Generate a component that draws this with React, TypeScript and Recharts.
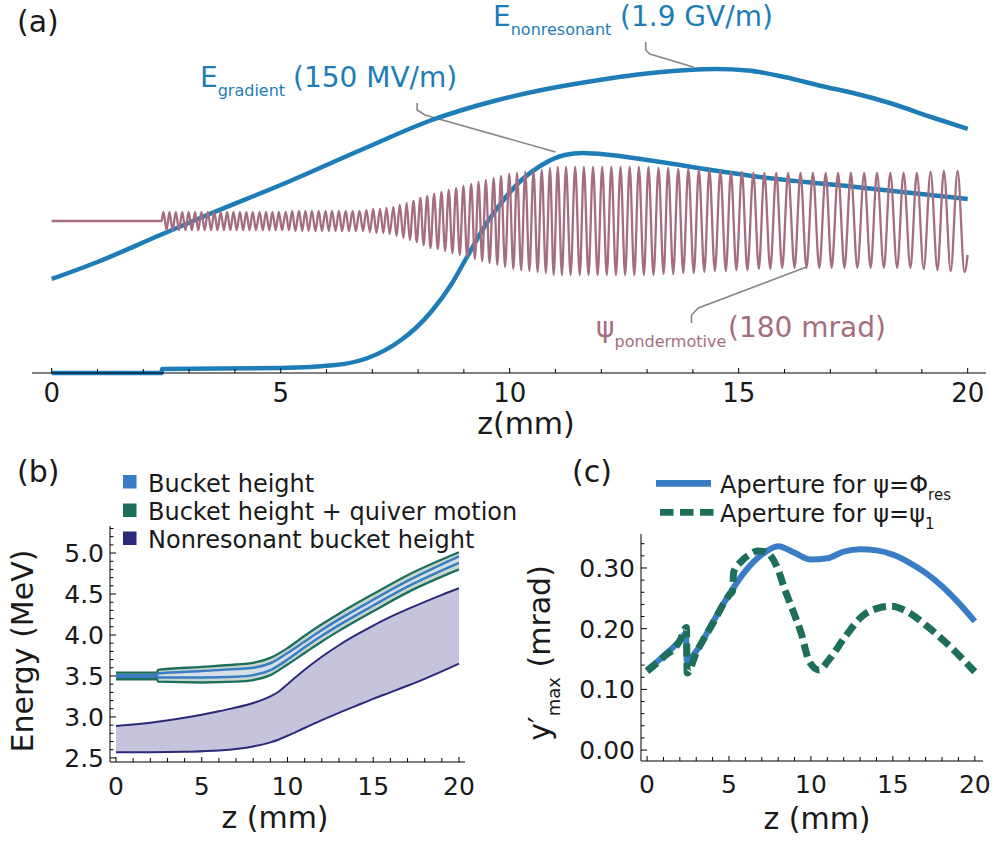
import { LineChart, ComposedChart, Line, Area, XAxis, YAxis } from 'recharts';

const FONT = '"DejaVu Sans", Verdana, sans-serif';
const INK = '#1a1a1a';
const FIELD_BLUE = '#1e7db6';
const PSI_COLOR = '#a56e80';
const CALLOUT = '#868686';
const BUCKET_BLUE = '#3a7dc4';
const QUIVER_GREEN = '#1e6e5c';
const NONRES_NAVY = '#2b2a7a';

// ---------- shared z ticks (mm)
const zTicks = [0, 1, 2, 3, 4, 5, 6, 7, 8, 9, 10, 11, 12, 13, 14, 15, 16, 17, 18, 19, 20];
const zMajor = [0, 5, 10, 15, 20];

// ---------- panel (a): arbitrary units, 0 = axis
const nonresonantField: [number, number][] = [
  [0, 94], [1, 111], [2.37, 138], [3.5, 160], [5, 188], [6.9, 226], [8.3, 253], [9.0, 263.5], [9.7, 272.5],
  [10.7, 283], [11.75, 291.5], [12.8, 298.5], [13.9, 303], [14.5, 304], [15.2, 302.5], [16, 296], [16.8, 287],
  [17.5, 280], [18.3, 270], [19.2, 256], [20, 244],
];
const gradientField: [number, number][] = [
  [0, 0], [2.4, 0], [2.41, 4], [5, 5], [6.2, 8], [6.9, 15], [7.6, 32], [7.95, 45], [8.3, 62], [8.73, 89],
  [9.08, 117], [9.5, 150], [9.9, 175], [10.26, 193], [10.7, 208], [11.2, 218], [11.6, 220],
  [12.2, 218], [13.3, 211], [14.4, 203], [15.46, 196], [17.76, 185], [20, 174],
];
// extrema of the ponderomotive phase oscillation
const psiPonderomotive: [number, number][] = [
  [0, 152], [2.4, 152],
  [2.44, 161], [2.51, 143], [2.57, 161], [2.64, 143], [2.71, 161], [2.78, 143], [2.85, 161], [2.92, 143],
  [2.99, 161], [3.06, 143], [3.13, 161], [3.2, 143], [3.27, 161], [3.34, 143], [3.41, 161], [3.48, 143],
  [3.55, 161], [3.62, 143], [3.69, 161], [3.76, 143], [3.83, 161], [3.9, 143], [3.97, 161], [4.04, 143],
  [4.11, 161], [4.18, 143], [4.25, 161], [4.32, 143], [4.39, 161], [4.46, 143], [4.54, 161], [4.61, 143],
  [4.68, 161], [4.75, 143], [4.82, 161], [4.89, 143], [4.96, 161], [5.03, 143], [5.11, 161], [5.18, 143],
  [5.25, 162], [5.32, 142], [5.4, 162], [5.47, 142], [5.54, 162], [5.61, 142], [5.68, 162], [5.76, 142],
  [5.83, 162], [5.9, 142], [5.98, 162], [6.05, 142], [6.12, 162], [6.2, 142], [6.27, 162], [6.34, 142],
  [6.42, 162], [6.49, 142], [6.57, 162], [6.64, 142], [6.72, 162], [6.8, 142],
  [6.87, 163], [6.95, 141], [7.02, 164], [7.09, 140], [7.17, 164], [7.24, 140], [7.31, 165], [7.38, 139],
  [7.46, 166], [7.53, 137], [7.6, 168], [7.68, 135], [7.75, 170], [7.82, 133], [7.9, 172], [7.97, 131],
  [8.05, 175], [8.12, 128], [8.2, 177], [8.27, 125], [8.35, 179], [8.43, 124], [8.51, 181], [8.59, 122],
  [8.67, 183], [8.75, 120], [8.83, 185], [8.91, 118], [8.99, 187], [9.07, 116], [9.16, 189], [9.24, 114],
  [9.32, 191], [9.4, 112], [9.48, 193], [9.56, 110], [9.65, 195], [9.73, 108], [9.81, 197], [9.9, 106],
  [9.99, 199], [10.08, 104], [10.16, 200], [10.25, 103], [10.34, 201], [10.43, 102], [10.52, 202], [10.61, 101],
  [10.7, 203], [10.79, 100], [10.88, 205], [10.96, 98],
  [11.05, 206], [11.14, 98], [11.23, 206], [11.33, 98], [11.43, 206], [11.53, 98], [11.62, 206], [11.72, 98],
  [11.82, 206], [11.92, 98], [12.02, 206], [12.12, 98], [12.22, 206], [12.32, 98], [12.42, 206], [12.52, 98],
  [12.62, 206], [12.72, 98], [12.82, 206], [12.93, 98], [13.03, 206], [13.14, 98],
  [13.25, 205], [13.36, 99], [13.46, 205], [13.57, 99], [13.68, 204], [13.79, 100], [13.9, 204], [14.02, 100],
  [14.13, 203], [14.25, 101], [14.36, 203], [14.48, 102], [14.6, 202], [14.72, 102], [14.83, 201], [14.95, 103],
  [15.07, 201], [15.19, 103], [15.32, 200], [15.44, 104], [15.56, 200], [15.69, 104], [15.82, 200], [15.95, 105],
  [16.08, 200], [16.22, 105], [16.35, 200], [16.48, 105], [16.62, 200], [16.76, 105], [16.9, 200], [17.03, 105],
  [17.17, 200], [17.31, 105], [17.45, 200], [17.59, 105], [17.74, 200], [17.88, 105], [18.02, 200], [18.17, 105],
  [18.31, 200], [18.46, 105], [18.6, 200], [18.75, 105], [18.89, 200], [19.04, 104], [19.19, 201], [19.34, 103],
  [19.48, 202], [19.63, 102], [19.78, 202], [19.93, 101], [20, 118],
];
// leader lines from the labels to the curves
const calloutNonres: [number, number][] = [[12.97, 331], [12.97, 323], [13.06, 319], [14.01, 306]];
const calloutGradient: [number, number][] = [[7.98, 270], [7.98, 263], [8.15, 258], [11.0, 221]];
const calloutPsi: [number, number][] = [[13.97, 50], [13.97, 58], [14.12, 65], [16.48, 106]];

// ---------- panel (b): energy (MeV)
const quiverZ = [0, 2.4, 2.45, 5, 7, 8, 9, 10, 11, 12, 13, 15, 17, 20];
const quiverUpper = [3.54, 3.54, 3.575, 3.61, 3.64, 3.66, 3.72, 3.84, 3.99, 4.13, 4.26, 4.5, 4.73, 5.01];
const quiverLower = [3.46, 3.46, 3.43, 3.42, 3.43, 3.45, 3.51, 3.64, 3.78, 3.92, 4.05, 4.29, 4.52, 4.8];
const bucketUpper = [3.51, 3.51, 3.53, 3.56, 3.585, 3.6, 3.655, 3.78, 3.92, 4.06, 4.19, 4.43, 4.66, 4.96];
const bucketLower = [3.49, 3.49, 3.48, 3.48, 3.49, 3.51, 3.57, 3.7, 3.85, 3.99, 4.12, 4.36, 4.59, 4.88];
const nonresZ = [0, 2, 4, 6, 8, 9, 9.5, 10, 11, 12, 13, 14, 15, 16, 17, 18, 19, 20];
const nonresUpper = [2.89, 2.93, 2.99, 3.07, 3.17, 3.25, 3.31, 3.4, 3.575, 3.735, 3.875, 4.0, 4.115, 4.22, 4.315, 4.405, 4.49, 4.57];
const nonresLower = [2.57, 2.57, 2.575, 2.59, 2.64, 2.69, 2.725, 2.77, 2.865, 2.96, 3.05, 3.135, 3.22, 3.3, 3.38, 3.465, 3.555, 3.65];
const energyTicks = [2.5, 2.6, 2.7, 2.8, 2.9, 3.0, 3.1, 3.2, 3.3, 3.4, 3.5, 3.6, 3.7, 3.8, 3.9, 4.0, 4.1, 4.2, 4.3, 4.4, 4.5, 4.6, 4.7, 4.8, 4.9, 5.0, 5.1, 5.2, 5.3];
const energyLabels = [2.5, 3.0, 3.5, 4.0, 4.5, 5.0];

// ---------- panel (c): aperture y'max (mrad)
const apertureRes: [number, number][] = [
  [0, 0.132], [0.5, 0.143], [1, 0.155], [1.5, 0.167], [2, 0.18], [2.38, 0.192], [2.42, 0.147], [3, 0.163],
  [4, 0.21], [5, 0.256], [6, 0.295], [7, 0.322], [8, 0.336], [9, 0.325], [10, 0.314], [11, 0.316],
  [12, 0.327], [13, 0.331], [14, 0.329], [15, 0.322], [16, 0.309], [17, 0.292], [18, 0.27], [19, 0.243], [20, 0.212],
];
const aperturePsi1: [number, number][] = [
  [0, 0.13], [1, 0.153], [2, 0.18], [2.4, 0.202], [2.45, 0.127], [3, 0.16], [4, 0.208], [5, 0.255],
  [5.22, 0.262], [5.28, 0.293], [5.75, 0.311], [6.25, 0.322], [6.75, 0.328], [7.2, 0.327], [7.6, 0.318],
  [8.0, 0.297], [8.4, 0.265], [8.8, 0.237], [9.4, 0.193], [9.9, 0.146], [10.5, 0.132], [11.1, 0.149],
  [12.1, 0.187], [13.1, 0.22], [14, 0.233], [14.9, 0.237], [16, 0.226], [17, 0.206], [18.4, 0.173], [20, 0.129],
];
const apertureTicks = [0, 0.02, 0.04, 0.06, 0.08, 0.1, 0.12, 0.14, 0.16, 0.18, 0.2, 0.22, 0.24, 0.26, 0.28, 0.3, 0.32, 0.34];
const apertureLabels = [0, 0.1, 0.2, 0.3];

const pts = (pairs: [number, number][]) => pairs.map(([z, v]) => ({ z, v }));
const band = (zs: number[], lo: number[], hi: number[]) =>
  zs.map((z, i) => ({ z, band: [lo[i], hi[i]], lo: lo[i], hi: hi[i] }));

const quiverData = band(quiverZ, quiverLower, quiverUpper);
const bucketData = band(quiverZ, bucketLower, bucketUpper);
const nonresData = band(nonresZ, nonresLower, nonresUpper);

// ticks point into the plot, labels only on majors
const makeXTick = (labelDy: number, fontSize: number) => (props: any) => {
  const { x, y, payload } = props;
  const major = zMajor.includes(payload.value);
  return (
    <g>
      <line x1={x} x2={x} y1={y} y2={y - (major ? 5 : 4)} stroke="#000" strokeWidth={1} />
      {major && (
        <text x={x} y={y + labelDy} textAnchor="middle" fontSize={fontSize} fontFamily={FONT} fill={INK}>
          {payload.value}
        </text>
      )}
    </g>
  );
};

const makeYTick = (labels: number[], digits: number, fontSize: number) => (props: any) => {
  const { x, y, payload } = props;
  const major = labels.some((l) => Math.abs(l - payload.value) < 1e-6);
  return (
    <g>
      <line x1={x} x2={x + (major ? 6 : 3.5)} y1={y} y2={y} stroke="#000" strokeWidth={1} />
      {major && (
        <text x={x - 6} y={y} dy="0.36em" textAnchor="end" fontSize={fontSize} fontFamily={FONT} fill={INK}>
          {payload.value.toFixed(digits)}
        </text>
      )}
    </g>
  );
};

const abs = (left: number, top: number) => ({ position: 'absolute' as const, left, top });

export default function App() {
  return (
    <div style={{ position: 'absolute', left: 0, top: 0, width: 995, height: 842, background: '#fff', fontFamily: FONT }}>
      {/* (a) fields along the structure */}
      <div style={abs(0, 0)}>
        <LineChart width={995} height={440} margin={{ top: 10, right: 9, left: 32, bottom: 0 }}>
          <XAxis
            dataKey="z" type="number" domain={[-0.43, 20.4]} ticks={zTicks} interval={0}
            height={67} tickSize={0} tickMargin={0} tickLine={false} axisLine={{ stroke: '#000' }}
            tick={makeXTick(29, 26)}
          />
          <YAxis hide width={0} type="number" domain={[0, 363]} />
          <Line data={pts(calloutNonres)} dataKey="v" type="linear" stroke={CALLOUT} strokeWidth={1.6} dot={false} activeDot={false} isAnimationActive={false} />
          <Line data={pts(calloutGradient)} dataKey="v" type="linear" stroke={CALLOUT} strokeWidth={1.6} dot={false} activeDot={false} isAnimationActive={false} />
          <Line data={pts(calloutPsi)} dataKey="v" type="linear" stroke={CALLOUT} strokeWidth={1.6} dot={false} activeDot={false} isAnimationActive={false} />
          <Line data={pts(gradientField)} dataKey="v" type="monotone" stroke={FIELD_BLUE} strokeWidth={4.5} dot={false} activeDot={false} isAnimationActive={false} />
          <Line data={pts(nonresonantField)} dataKey="v" type="monotone" stroke={FIELD_BLUE} strokeWidth={4.5} dot={false} activeDot={false} isAnimationActive={false} />
          <Line data={pts(psiPonderomotive)} dataKey="v" type="monotone" stroke={PSI_COLOR} strokeWidth={2.3} dot={false} activeDot={false} isAnimationActive={false} />
        </LineChart>
      </div>

      {/* (b) bucket heights */}
      <div style={abs(0, 440)}>
        <ComposedChart width={480} height={402} margin={{ top: 86, right: 15, left: 0, bottom: 0 }}>
          <XAxis
            dataKey="z" type="number" domain={[-0.35, 20.35]} allowDataOverflow ticks={zTicks} interval={0}
            height={80} tickSize={0} tickMargin={0} tickLine={false} axisLine={{ stroke: '#000' }}
            tick={makeXTick(33, 25)}
          />
          <YAxis
            type="number" domain={[2.45, 5.33]} allowDataOverflow ticks={energyTicks} interval={0} width={110}
            tickSize={0} tickMargin={0} tickLine={false} axisLine={{ stroke: '#000' }}
            tick={makeYTick(energyLabels, 1, 25)}
          />
          <Area data={nonresData} dataKey="band" type="monotone" stroke="none" fill="#c6c3dd" fillOpacity={1} dot={false} activeDot={false} isAnimationActive={false} />
          <Line data={nonresData} dataKey="hi" type="monotone" stroke={NONRES_NAVY} strokeWidth={2} dot={false} activeDot={false} isAnimationActive={false} />
          <Line data={nonresData} dataKey="lo" type="monotone" stroke={NONRES_NAVY} strokeWidth={2} dot={false} activeDot={false} isAnimationActive={false} />
          <Area data={quiverData} dataKey="band" type="monotone" stroke="none" fill="#c8d7d0" fillOpacity={1} dot={false} activeDot={false} isAnimationActive={false} />
          <Line data={quiverData} dataKey="hi" type="monotone" stroke={QUIVER_GREEN} strokeWidth={2.3} dot={false} activeDot={false} isAnimationActive={false} />
          <Line data={quiverData} dataKey="lo" type="monotone" stroke={QUIVER_GREEN} strokeWidth={2.3} dot={false} activeDot={false} isAnimationActive={false} />
          <Area data={bucketData} dataKey="band" type="monotone" stroke="none" fill="#d6dee6" fillOpacity={1} dot={false} activeDot={false} isAnimationActive={false} />
          <Line data={bucketData} dataKey="hi" type="monotone" stroke={BUCKET_BLUE} strokeWidth={2.5} dot={false} activeDot={false} isAnimationActive={false} />
          <Line data={bucketData} dataKey="lo" type="monotone" stroke={BUCKET_BLUE} strokeWidth={2.5} dot={false} activeDot={false} isAnimationActive={false} />
        </ComposedChart>
      </div>

      {/* (c) angular aperture */}
      <div style={abs(500, 440)}>
        <LineChart width={495} height={402} margin={{ top: 94, right: 12, left: 0, bottom: 0 }}>
          <XAxis
            dataKey="z" type="number" domain={[-0.37, 20.5]} allowDataOverflow ticks={zTicks} interval={0}
            height={81} tickSize={0} tickMargin={0} tickLine={false} axisLine={{ stroke: '#000' }}
            tick={makeXTick(32, 25)}
          />
          <YAxis
            type="number" domain={[-0.018, 0.356]} allowDataOverflow ticks={apertureTicks} interval={0} width={141}
            tickSize={0} tickMargin={0} tickLine={false} axisLine={{ stroke: '#000' }}
            tick={makeYTick(apertureLabels, 2, 25)}
          />
          <Line data={pts(apertureRes)} dataKey="v" type="monotone" stroke={BUCKET_BLUE} strokeWidth={6} dot={false} activeDot={false} isAnimationActive={false} />
          <Line data={pts(aperturePsi1)} dataKey="v" type="monotone" stroke={QUIVER_GREEN} strokeWidth={7} strokeDasharray="13 6" dot={false} activeDot={false} isAnimationActive={false} />
        </LineChart>
      </div>

      {/* labels, legends */}
      <svg width={995} height={842} style={{ position: 'absolute', left: 0, top: 0, pointerEvents: 'none' }} fontFamily={FONT}>
        <text x={17} y={32} fontSize={30} fill={INK}>(a)</text>
        <text x={493} y={26} fontSize={28} fill={FIELD_BLUE}>
          E<tspan fontSize={16} dy={9}>nonresonant</tspan>
          <tspan x={620} dy={-9} fontSize={28}>(1.9 GV/m)</tspan>
        </text>
        <text x={200} y={87} fontSize={28} fill={FIELD_BLUE}>
          E<tspan fontSize={16} dy={9}>gradient</tspan>
          <tspan x={293} dy={-9} fontSize={28}>(150 MV/m)</tspan>
        </text>
        <text x={596} y={337} fontSize={28} fill={PSI_COLOR}>
          ψ<tspan fontSize={16} dy={10}>pondermotive</tspan>
          <tspan x={728} dy={-10} fontSize={28}>(180 mrad)</tspan>
        </text>
        <text x={526} y={434} fontSize={30} fill={INK} textAnchor="middle">z(mm)</text>

        <text x={17} y={482} fontSize={30} fill={INK}>(b)</text>
        <rect x={123} y={475} width={13.5} height={13.5} fill={BUCKET_BLUE} />
        <rect x={123} y={503.5} width={13.5} height={13.5} fill={QUIVER_GREEN} />
        <rect x={123} y={531.5} width={13.5} height={13.5} fill={NONRES_NAVY} />
        <text x={148} y={492} fontSize={24} fill={INK}>Bucket height</text>
        <text x={148} y={520} fontSize={24} fill={INK}>Bucket height + quiver motion</text>
        <text x={148} y={548} fontSize={24} fill={INK}>Nonresonant bucket height</text>
        <text transform="translate(33,651) rotate(-90)" fontSize={30} fill={INK} textAnchor="middle">Energy (MeV)</text>
        <text x={275} y={828} fontSize={30} fill={INK} textAnchor="middle">z (mm)</text>

        <text x={572} y={482} fontSize={30} fill={INK}>(c)</text>
        <line x1={656} x2={711} y1={483.3} y2={483.3} stroke={BUCKET_BLUE} strokeWidth={6.7} />
        <line x1={660} x2={714} y1={512.3} y2={512.3} stroke={QUIVER_GREEN} strokeWidth={6.7} strokeDasharray="13.5 6.5" />
        <text x={720} y={493} fontSize={24} fill={INK}>
          Aperture for ψ=Φ<tspan fontSize={15} dy={7}>res</tspan>
        </text>
        <text x={720} y={522} fontSize={24} fill={INK}>
          Aperture for ψ=ψ<tspan fontSize={15} dy={7}>1</tspan>
        </text>
        <text transform="translate(550,653) rotate(-90)" fontSize={30} fill={INK} textAnchor="middle">
          y′<tspan fontSize={18} dy={10}>max</tspan>
          <tspan dy={-10}>{'\u00a0(mrad)'}</tspan>
        </text>
        <text x={817} y={829} fontSize={30} fill={INK} textAnchor="middle">z (mm)</text>
      </svg>
    </div>
  );
}
